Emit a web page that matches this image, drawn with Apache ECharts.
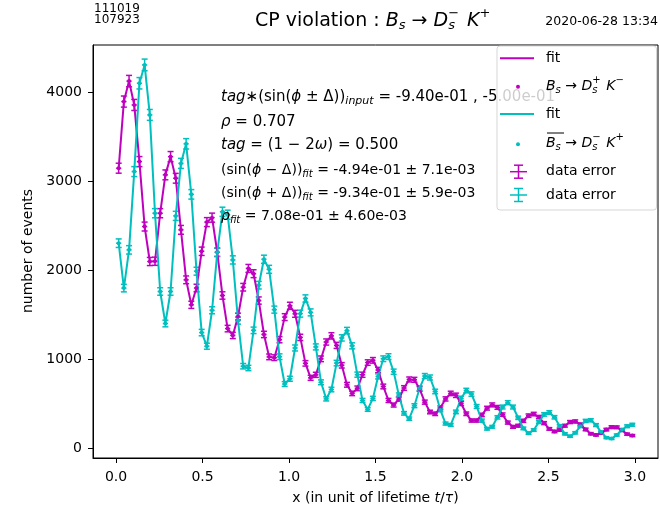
<!DOCTYPE html>
<html><head><meta charset="utf-8">
<script src="https://cdn.jsdelivr.net/npm/echarts@6/dist/echarts.min.js"></script>
<style>html,body{margin:0;padding:0;background:#fff}#c{width:660px;height:510px}</style>
</head><body><div id="c"></div>
<script>
const binCenters = [0.015,0.045,0.075,0.105,0.135,0.165,0.195,0.225,0.255,0.285,0.315,0.345,0.375,0.405,0.435,0.465,0.495,0.525,0.555,0.585,0.615,0.645,0.675,0.705,0.735,0.765,0.795,0.825,0.855,0.885,0.915,0.945,0.975,1.005,1.035,1.065,1.095,1.125,1.155,1.185,1.215,1.245,1.275,1.305,1.335,1.365,1.395,1.425,1.455,1.485,1.515,1.545,1.575,1.605,1.635,1.665,1.695,1.725,1.755,1.785,1.815,1.845,1.875,1.905,1.935,1.965,1.995,2.025,2.055,2.085,2.115,2.145,2.175,2.205,2.235,2.265,2.295,2.325,2.355,2.385,2.415,2.445,2.475,2.505,2.535,2.565,2.595,2.625,2.655,2.685,2.715,2.745,2.775,2.805,2.835,2.865,2.895,2.925,2.955,2.985];
// Bs -> Ds+ K-  (magenta)
const bsCounts = [3146,3895,4125,3857,3220,2490,2097,2100,2640,3071,3276,3033,2453,1891,1610,1799,2212,2540,2590,2201,1715,1343,1266,1478,1808,2019,1960,1658,1277,1025,1016,1218,1472,1599,1509,1244,952,789,823,1003,1192,1261,1154,930,711,614,671,824,961,986,877,692,535,483,550,675,771,767,664,516,405,385,452,552,614,593,500,385,309,309,372,448,485,457,375,286,238,251,306,364,382,348,280,215,186,204,251,292,299,265,209,161,147,168,207,235,233,200,156,140];
// Bs-bar -> Ds- K+ (cyan)
const bsbarCounts = [2303,1798,2228,3108,4101,4307,3745,2640,1760,1400,1760,2610,3200,3420,2852,1988,1298,1145,1549,2200,2656,2623,2115,1431,920,900,1323,1831,2122,2009,1556,1027,720,779,1125,1511,1681,1525,1137,739,553,658,955,1238,1320,1149,825,535,434,558,805,1004,1028,858,595,390,330,476,673,809,793,636,428,275,260,406,559,646,607,467,308,217,239,345,461,510,461,340,221,167,202,293,378,400,346,247,160,132,171,246,305,312,258,179,117,106,146,206,245,262];
const xTicks = [0, 0.5, 1.0, 1.5, 2.0, 2.5, 3.0];
const yTicks = [0, 1000, 2000, 3000, 4000];
const binHalfWidth = 0.015;

const MAG = '#bf00bf', CYA = '#00bfbf';
const FF = 'DejaVu Sans';

function errSeries(name, vals, color) {
  return {
    type: 'custom', name: name, silent: true, animation: false,
    data: binCenters.map((x, i) => [x, vals[i], Math.sqrt(vals[i])]),
    encode: {x: 0, y: 1},
    renderItem: function (params, api) {
      const x = api.value(0), y = api.value(1), e = api.value(2);
      const t = api.coord([x, y + e]), b = api.coord([x, y - e]);
      const l = api.coord([x - binHalfWidth, y]), r = api.coord([x + binHalfWidth, y]);
      const cap = 3;
      const st = {stroke: color, lineWidth: 1.5};
      return {type: 'group', children: [
        {type: 'line', shape: {x1: t[0], y1: t[1], x2: b[0], y2: b[1]}, style: st},
        {type: 'line', shape: {x1: l[0], y1: l[1], x2: r[0], y2: r[1]}, style: st},
        {type: 'line', shape: {x1: t[0] - cap, y1: t[1], x2: t[0] + cap, y2: t[1]}, style: st},
        {type: 'line', shape: {x1: b[0] - cap, y1: b[1], x2: b[0] + cap, y2: b[1]}, style: st}
      ]};
    }
  };
}
function lineSeries(name, vals, color) {
  return {
    type: 'line', name: name, animation: false, silent: true,
    data: binCenters.map((x, i) => [x, vals[i]]),
    symbol: 'circle', symbolSize: 4, showSymbol: true,
    itemStyle: {color: color}, lineStyle: {color: color, width: 2}
  };
}
function richSet(fs) {
  return {
    n: {fontFamily: FF, fontSize: fs, fill: '#000'},
    mi: {fontFamily: FF, fontSize: fs, fontStyle: 'italic', fill: '#000'},
    sb: {fontFamily: FF, fontSize: Math.round(fs * 0.7), fontStyle: 'italic', fill: '#000', padding: [Math.round(fs * 0.55), 0, 0, 0]},
    sp: {fontFamily: FF, fontSize: Math.round(fs * 0.7), fill: '#000', padding: [0, 0, Math.round(fs * 0.75), 0]},
    sp0: {fontFamily: FF, fontSize: Math.round(fs * 0.7), fill: '#000', width: 0.01, padding: [0, 0, Math.round(fs * 0.75), 0]}
  };
}
function txt(x, y, text, fs, align, z) {
  return {
    type: 'text', x: x, y: y, z: z || 10, silent: true,
    style: {text: text, fontFamily: FF, fontSize: fs, fill: '#000',
      align: align || 'left', verticalAlign: 'middle',
      textAlign: align || 'left', textVerticalAlign: 'middle', rich: richSet(fs)}
  };
}
function ln(x1, y1, x2, y2, color, w, z) {
  return {type: 'line', z: z || 20, silent: true, shape: {x1: x1, y1: y1, x2: x2, y2: y2}, style: {stroke: color, lineWidth: w}};
}
function errIcon(cx, cy, color) {
  return [
    ln(cx, cy - 6.5, cx, cy + 6.5, color, 1.5, 21),
    ln(cx - 8.5, cy, cx + 8.5, cy, color, 1.5, 21),
    ln(cx - 4.5, cy - 6.5, cx + 4.5, cy - 6.5, color, 1.5, 21),
    ln(cx - 4.5, cy + 6.5, cx + 4.5, cy + 6.5, color, 1.5, 21)
  ];
}

const graphics = [
  txt(94, 9, '111019', 12),
  txt(94, 20, '107923', 12),
  txt(658, 22, '2020-06-28 13:34', 12.5, 'right'),
  txt(255, 21, '{n|CP violation : }{mi|B}{sb|s}{n| → }{mi|D}{sp0|−}{sb|s}{n|  }{mi|K}{sp|+}', 19, 'left'),
  txt(221, 97, '{mi|tag}{n|∗(sin(}{mi|ϕ}{n| ± Δ))}{sb|input}{n| = -9.40e-01 , -5.00e-01}', 15),
  txt(221, 122, '{mi|ρ}{n| = 0.707}', 15),
  txt(221, 145, '{mi|tag}{n| = (1 − 2}{mi|ω}{n|) = 0.500}', 15),
  txt(221, 170, '{n|(sin(}{mi|ϕ}{n| − Δ))}{sb|fit}{n| = -4.94e-01 ± 7.1e-03}', 14),
  txt(221, 193, '{n|(sin(}{mi|ϕ}{n| + Δ))}{sb|fit}{n| = -9.34e-01 ± 5.9e-03}', 14),
  txt(221, 216, '{mi|ρ}{sb|fit}{n| = 7.08e-01 ± 4.60e-03}', 14),
  txt(375.5, 498, '{n|x (in unit of lifetime }{mi|t}{n|/}{mi|τ}{n|)}', 14, 'center'),
  {type: 'text', x: 28, y: 251, rotation: Math.PI / 2, z: 10, silent: true,
   style: {text: 'number of events', fontFamily: FF, fontSize: 14, fill: '#000', align: 'center', verticalAlign: 'middle', textAlign: 'center', textVerticalAlign: 'middle'}},
  // legend
  {type: 'rect', z: 19, silent: true, shape: {x: 497, y: 46, width: 159.5, height: 164, r: 3},
   style: {fill: 'rgba(255,255,255,0.8)', stroke: 'rgba(204,204,204,0.8)', lineWidth: 1}},
  ln(500, 58.3, 534, 58.3, MAG, 2),
  txt(546, 58, '{n|fit}', 14, 'left', 21),
  {type: 'circle', z: 21, silent: true, shape: {cx: 518, cy: 86.7, r: 2}, style: {fill: MAG}},
  txt(546, 86, '{mi|B}{sb|s}{n| → }{mi|D}{sp0|+}{sb|s}{n|  }{mi|K}{sp|−}', 14, 'left', 21),
  ln(500, 114, 534, 114, CYA, 2),
  txt(546, 114, '{n|fit}', 14, 'left', 21),
  {type: 'circle', z: 21, silent: true, shape: {cx: 518, cy: 144.3, r: 2}, style: {fill: CYA}},
  txt(546, 143, '{mi|B}{sb|s}{n| → }{mi|D}{sp0|−}{sb|s}{n|  }{mi|K}{sp|+}', 14, 'left', 21),
  ln(547, 133, 564, 133, '#000', 1, 21),
  ...errIcon(518.5, 171.7, MAG),
  txt(546, 171.7, '{n|data error}', 14, 'left', 21),
  ...errIcon(518.5, 195, CYA),
  txt(546, 195, '{n|data error}', 14, 'left', 21)
];

const chart = echarts.init(document.getElementById('c'), null, {renderer: 'canvas'});
chart.setOption({
  animation: false,
  backgroundColor: '#fff',
  grid: {left: 93, right: 2, top: 45, bottom: 52, containLabel: false, outerBoundsMode: 'none',
         show: true, borderColor: '#000', borderWidth: 1, backgroundColor: 'transparent'},
  xAxis: {
    type: 'value', min: -0.1335, max: 3.1335,
    splitLine: {show: false},
    axisLine: {show: true, onZero: false, lineStyle: {color: '#000', width: 1}},
    axisTick: {show: true, inside: false, length: 5, customValues: xTicks, lineStyle: {color: '#000', width: 1}},
    axisLabel: {show: true, margin: 12, customValues: xTicks, color: '#000', fontFamily: FF, fontSize: 14,
      formatter: v => Number(v).toFixed(1)}
  },
  yAxis: {
    type: 'value', min: -112, max: 4531,
    splitLine: {show: false},
    axisLine: {show: true, onZero: false, lineStyle: {color: '#000', width: 1}},
    axisTick: {show: true, inside: false, length: 5, customValues: yTicks, lineStyle: {color: '#000', width: 1}},
    axisLabel: {show: true, margin: 11, customValues: yTicks, color: '#000', fontFamily: FF, fontSize: 14,
      formatter: v => String(Math.round(v))}
  },
  series: [
    lineSeries('fit Bs', bsCounts, MAG),
    lineSeries('fit Bsbar', bsbarCounts, CYA),
    errSeries('data error Bs', bsCounts, MAG),
    errSeries('data error Bsbar', bsbarCounts, CYA)
  ],
  graphic: graphics
});
</script>
</body></html>
